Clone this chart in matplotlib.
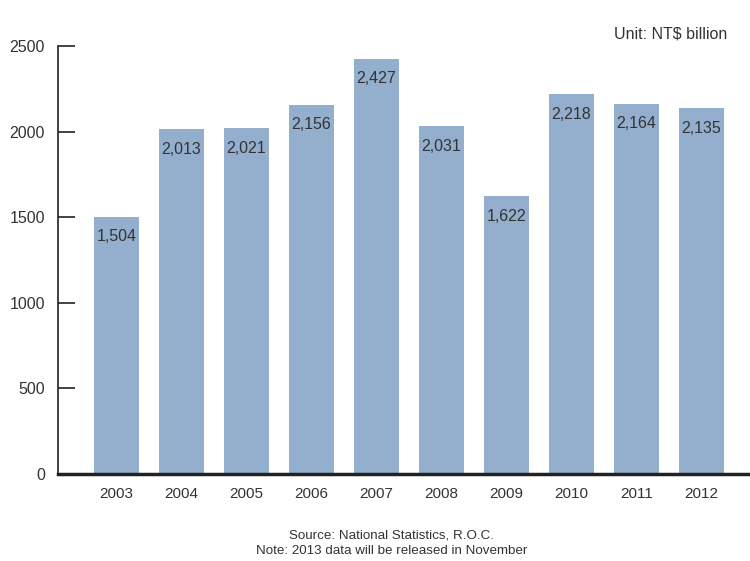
import matplotlib
matplotlib.use("Agg")
import matplotlib.pyplot as plt
from matplotlib import font_manager

years = ["2003", "2004", "2005", "2006", "2007", "2008", "2009", "2010", "2011", "2012"]
values = [1504, 2013, 2021, 2156, 2427, 2031, 1622, 2218, 2164, 2135]
yticks = [0, 500, 1000, 1500, 2000, 2500]

names = {f.name for f in font_manager.fontManager.ttflist}
fam = "Liberation Sans Narrow" if "Liberation Sans Narrow" in names else "Liberation Sans"
plt.rcParams["font.family"] = [fam, "DejaVu Sans"]

text_col = "#333333"
bar_col = "#94AECE"

fig = plt.figure(figsize=(7.5, 5.61), dpi=100)
ax = fig.add_axes([0.0773, 0.155, 0.9227, 0.763])

x = list(range(len(years)))
ax.bar(x, values, width=0.69, color=bar_col, zorder=2)
for xi, v in zip(x, values):
    ax.annotate(f"{v:,}", (xi, v), xytext=(0, -9), textcoords="offset points",
                ha="center", va="top", fontsize=11.5, color=text_col, zorder=3)

ax.set_xlim(-0.9, 9.75)
ax.set_ylim(0, 2500)
ax.set_xticks(x)
ax.set_xticklabels(years)
ax.set_yticks(yticks)
ax.set_yticklabels([str(t) for t in yticks])

for s in ["top", "right"]:
    ax.spines[s].set_visible(False)
ax.spines["left"].set_linewidth(1.2)
ax.spines["bottom"].set_linewidth(2.5)
ax.spines["left"].set_color("#222222")
ax.spines["bottom"].set_color("#222222")
ax.tick_params(axis="y", direction="in", length=12, width=1.2, color="#222222",
               labelsize=11.5, labelcolor=text_col, pad=9.5)
ax.tick_params(axis="x", length=0, labelsize=11, labelcolor=text_col, pad=9)

fig.text(0.97, 0.939, "Unit: NT$ billion", ha="right", va="center", fontsize=11.5, color=text_col)
fig.text(0.522, 0.045, "Source: National Statistics, R.O.C.", ha="center", va="center",
         fontsize=9.6, color=text_col)
fig.text(0.522, 0.017, "Note: 2013 data will be released in November", ha="center", va="center",
         fontsize=9.6, color=text_col)

fig.savefig("out.png", dpi=100)
